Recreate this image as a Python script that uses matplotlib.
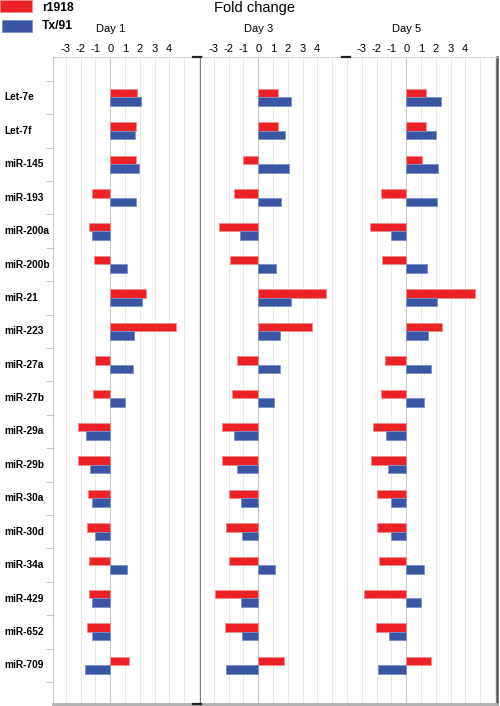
import numpy as np
import matplotlib
matplotlib.use("Agg")
import matplotlib.pyplot as plt
from matplotlib.patches import Rectangle
from matplotlib.lines import Line2D

plt.rcParams['font.family'] = ['Liberation Sans', 'DejaVu Sans']

mirnas = ["Let-7e", "Let-7f", "miR-145", "miR-193", "miR-200a", "miR-200b",
          "miR-21", "miR-223", "miR-27a", "miR-27b", "miR-29a", "miR-29b",
          "miR-30a", "miR-30d", "miR-34a", "miR-429", "miR-652", "miR-709"]
days = ["Day 1", "Day 3", "Day 5"]
series_names = ["r1918", "Tx/91"]

day1_r1918 = [1.83, 1.76, 1.73, -1.26, -1.44, -1.11, 2.42, 4.45, -1.0, -1.18,
              -2.21, -2.21, -1.51, -1.58, -1.46, -1.46, -1.58, 1.24]
day1_tx91 = [2.05, 1.69, 1.93, 1.73, -1.22, 1.11, 2.13, 1.58, 1.51, 1.02,
             -1.63, -1.35, -1.24, -1.06, 1.15, -1.24, -1.24, -1.74]
day3_r1918 = [1.33, 1.33, -1.04, -1.61, -2.68, -1.9, 4.58, 3.62, -1.42, -1.76,
              -2.46, -2.46, -1.99, -2.16, -1.99, -2.96, -2.28, 1.72]
day3_tx91 = [2.24, 1.83, 2.07, 1.55, -1.26, 1.2, 2.19, 1.44, 1.44, 1.04,
             -1.61, -1.46, -1.2, -1.13, 1.15, -1.2, -1.13, -2.16]
day5_r1918 = [1.31, 1.31, 1.06, -1.72, -2.48, -1.65, 4.63, 2.4, -1.44, -1.7,
              -2.28, -2.4, -1.99, -1.99, -1.83, -2.89, -2.03, 1.7]
day5_tx91 = [2.33, 2.03, 2.16, 2.1, -1.04, 1.42, 2.1, 1.46, 1.7, 1.22,
             -1.38, -1.22, -1.04, -1.04, 1.2, 1.02, -1.2, -1.9]

xticks = [-3, -2, -1, 0, 1, 2, 3, 4]

red = "#ed2227"
blue = "#3b55a5"
red_edge = "#f48a8c"
blue_edge = "#7d8fc6"

fig = plt.figure(figsize=(5, 7.06), dpi=100)
W, H = 500.0, 706.0

data = [(day1_r1918, day1_tx91), (day3_r1918, day3_tx91), (day5_r1918, day5_tx91)]
y = np.arange(len(mirnas))
bh = 0.255

for k, (r_vals, b_vals) in enumerate(data):
    left = 53 + k * 148
    ax = fig.add_axes([left / W, 1 - 704 / H, 148 / W, (704 - 57) / H])
    for g in range(-3, 7):
        ax.axvline(g, color="#c8c8c8" if g == 0 else "#e8e8e8", lw=0.8 if g == 0 else 0.7, zorder=0)
    ax.barh(y - bh / 2, r_vals, height=bh, color=red, edgecolor=red_edge, linewidth=0.6, zorder=2)
    ax.barh(y + bh / 2, b_vals, height=bh, color=blue, edgecolor=blue_edge, linewidth=0.6, zorder=2)
    ax.set_xlim(-3.88, 6.15)
    ax.set_ylim(18.16, -1.21)
    ax.xaxis.tick_top()
    ax.set_xticks(xticks)
    ax.set_xticklabels([str(t) for t in xticks], fontsize=8)
    ax.tick_params(axis="x", length=0, pad=2)
    if k == 0:
        ax.set_yticks(np.arange(-0.5, len(mirnas), 1.0))
        ax.set_yticklabels([])
        ax.tick_params(axis="y", length=5, color="#c8c8c8", width=0.8)
    else:
        ax.set_yticks([])
    for s in ax.spines.values():
        s.set_color("#cfcfcf")
        s.set_linewidth(0.8)
    ax.spines["bottom"].set_color("#b0b0b0")
    ax.spines["bottom"].set_linewidth(2)
    ax.spines["left"].set_visible(k == 0)
    if k != 1:
        ax.spines["right"].set_color("#555555")
        ax.spines["right"].set_linewidth(1.8)
    zero_x = (left + 57.3) / W
    fig.text(zero_x, 1 - 29 / H, days[k], ha="center", va="center", fontsize=8)

# row labels
for i, name in enumerate(mirnas):
    yy = 97.5 + i * 33.4
    fig.text(4 / W, 1 - yy / H, name, ha="left", va="center", fontsize=7.3, fontweight="bold")

# small black marks at the panel joins
for x0, x1, yy in [(193, 201, 57), (342, 350, 57), (193, 201, 704)]:
    fig.add_artist(Line2D([x0 / W, x1 / W], [1 - yy / H, 1 - yy / H], color="#222222", lw=1.6))

fig.text(255 / W, 1 - 8 / H, "Fold change", ha="center", va="center", fontsize=10.5)

# legend
fig.add_artist(Rectangle((0, 1 - 12 / H), 32 / W, 12 / H, facecolor=red, edgecolor=red_edge, lw=0.6))
fig.add_artist(Rectangle((2 / W, 1 - 32 / H), 30 / W, 12 / H, facecolor=blue, edgecolor=blue_edge, lw=0.6))
fig.text(42 / W, 1 - 8 / H, series_names[0], ha="left", va="center", fontsize=8.7, fontweight="bold")
fig.text(42 / W, 1 - 26 / H, series_names[1], ha="left", va="center", fontsize=8.7, fontweight="bold")

fig.savefig("out.png", dpi=100)
